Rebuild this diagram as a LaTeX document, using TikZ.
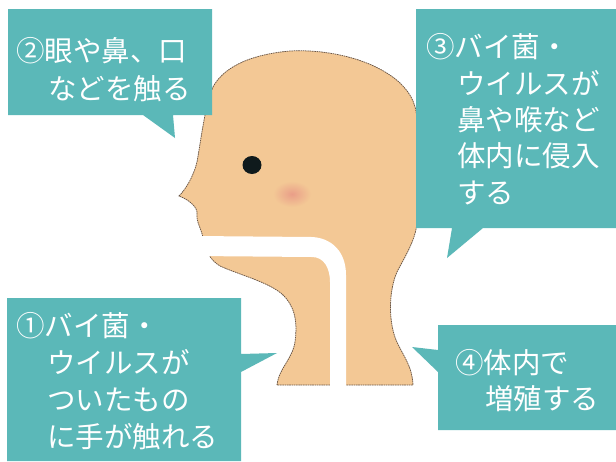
\documentclass[tikz,border=0pt]{standalone}
\usepackage{fontspec}
\newfontfamily\jpfont{Noto Sans CJK JP}
\definecolor{calloutteal}{HTML}{5BB8B8}
\definecolor{skin}{HTML}{F3C895}
\definecolor{skinline}{HTML}{6A5646}
\definecolor{blush}{HTML}{E99E88}
\definecolor{eyeblack}{HTML}{0F1A1C}
\begin{document}
\begin{tikzpicture}[x=1pt,y=-1pt,
  callout/.style={fill=calloutteal},
  caption/.style={anchor=base west, inner sep=0pt, text=white,
    font=\jpfont\fontsize{28.5pt}{37pt}\selectfont},
  headline/.style={draw=skinline, line width=0.75pt, dash pattern=on 1.6pt off 0.7pt}]

\useasboundingbox (0,0) rectangle (616,461);
\fill[white] (0,0) rectangle (616,461);

% head in profile, facing left
\filldraw[fill=skin, headline]
  (213,87) .. controls (222,70) and (245,55) .. (290,51)
  .. controls (330,49) and (375,60) .. (400,83)
  .. controls (412,95) and (417,105) .. (417,125)
  -- (417,222)
  .. controls (416,240) and (404,258) .. (397,272)
  .. controls (389,290) and (388,320) .. (396,340)
  .. controls (403,356) and (412,365) .. (413,385)
  -- (277,385)
  .. controls (279,368) and (292,360) .. (295,342)
  .. controls (298,320) and (294,305) .. (282,294)
  .. controls (268,282) and (240,275) .. (220,266)
  .. controls (210,260) and (205,250) .. (203,238)
  .. controls (202,230) and (196,222) .. (197,214)
  .. controls (198,208) and (190,200) .. (179,196)
  .. controls (185,190) and (193,178) .. (197,162)
  .. controls (201,140) and (205,105) .. (213,87) -- cycle;

% airway from the mouth down the throat
\fill[white] (195,236) -- (312,237)
  .. controls (332,238) and (346,252) .. (346,275)
  -- (346,390) -- (330,390) -- (330,282)
  .. controls (330,268) and (324,257) .. (312,257)
  -- (195,256) -- cycle;

% cheek and eye
\shade[inner color=blush, outer color=skin] (292,194) ellipse [x radius=19, y radius=13];
\fill[eyeblack] (252,165) ellipse [x radius=9.5, y radius=9];

% speech boxes
\fill[callout] (8,9) -- (212,9) -- (212,115) -- (173,115) -- (175,138) -- (143,115) -- (8,115) -- cycle;
\fill[callout] (416,9) -- (616,9) -- (616,228) -- (483,228) -- (447,258) -- (452,228) -- (416,228) -- cycle;
\fill[callout] (7,298) -- (241,298) -- (241,354) -- (277,353) -- (241,372) -- (241,461) -- (7,461) -- cycle;
\fill[callout] (438,325) -- (616,325) -- (616,430) -- (438,430) -- (438,372) -- (412,347) -- (438,350) -- cycle;

% texts
\node[caption] (t2a) at (16,61) {②眼や鼻、口};
\node[caption] (t2b) at (48,99) {などを触る};

\node[caption] (t3a) at (426,57.5) {③バイ菌・};
\node[caption] (t3b) at (457,94) {ウイルスが};
\node[caption] (t3c) at (457,130) {鼻や喉など};
\node[caption] (t3d) at (457,166.5) {体内に侵入};
\node[caption] (t3e) at (457,203) {する};

\node[caption] (t1a) at (16,336) {①バイ菌・};
\node[caption] (t1b) at (47,373) {ウイルスが};
\node[caption] (t1c) at (47,410.5) {ついたもの};
\node[caption] (t1d) at (47,447.5) {に手が触れる};

\node[caption] (t4a) at (455,373) {④体内で};
\node[caption] (t4b) at (485,409) {増殖する};
\end{tikzpicture}
\end{document}
